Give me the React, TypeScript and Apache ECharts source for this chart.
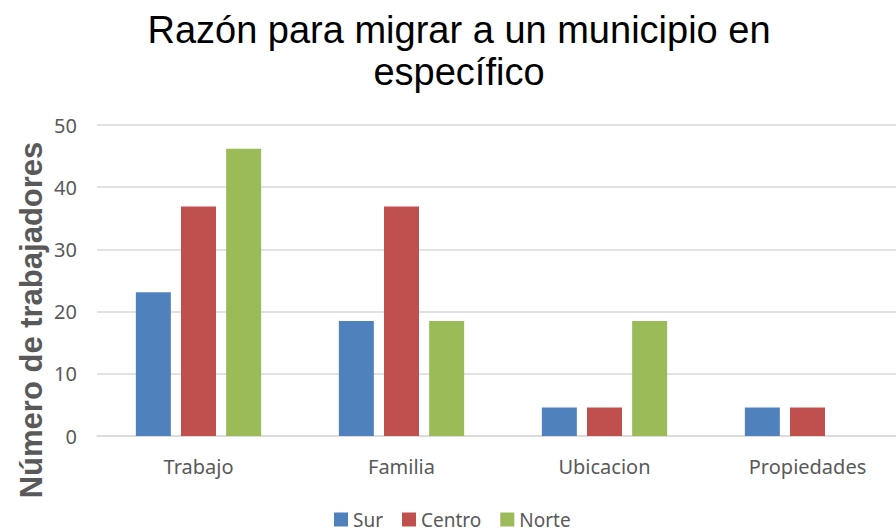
import React, { useEffect, useRef } from "react";
import * as echarts from "echarts";

const categories = ["Trabajo", "Familia", "Ubicacion", "Propiedades"];
const sur = [23.1, 18.5, 4.6, 4.6];
const centro = [36.9, 36.9, 4.6, 4.6];
const norte = [46.2, 18.5, 18.5, 0];
const yTicks = { min: 0, max: 50, interval: 10 };

export default function App() {
  const ref = useRef<HTMLDivElement>(null);
  useEffect(() => {
    const chart = echarts.init(ref.current!, null, { renderer: "svg" });
    const labelFont = "'Noto Sans', 'Open Sans', sans-serif";
    chart.setOption({
      animation: false,
      backgroundColor: "#ffffff",
      title: {
        text: "Razón para migrar a un municipio en\nespecífico",
        left: 454,
        top: 4,
        textAlign: "center",
        textStyle: {
          fontFamily: "'Liberation Sans', Arial, sans-serif",
          fontSize: 38,
          fontWeight: "normal",
          color: "#000000",
          lineHeight: 42,
        },
      },
      legend: {
        top: 510,
        left: 334,
        itemWidth: 14,
        itemHeight: 14,
        itemGap: 19,
        icon: "rect",
        padding: 0,
        textStyle: { fontFamily: labelFont, fontSize: 19, color: "#595959" },
        data: ["Sur", "Centro", "Norte"],
      },
      graphic: [
        {
          type: "text",
          x: 31,
          y: 320,
          rotation: Math.PI / 2,
          style: {
            text: "Número de trabajadores",
            fontFamily: "'Liberation Sans', Arial, sans-serif",
            fontSize: 31,
            fontWeight: "bold",
            fill: "#595959",
            align: "center",
            verticalAlign: "middle",
          },
        },
      ],
      grid: { left: 97, width: 812, top: 125, height: 311, outerBoundsMode: "none", containLabel: false },
      xAxis: {
        type: "category",
        data: categories,
        axisLine: { lineStyle: { color: "#d9d9d9", width: 1.5 } },
        axisTick: { show: false },
        axisLabel: { fontFamily: labelFont, fontSize: 20, color: "#595959", margin: 20 },
      },
      yAxis: {
        type: "value",
        min: yTicks.min,
        max: yTicks.max,
        interval: yTicks.interval,
        axisLine: { show: false },
        axisTick: { show: false },
        splitLine: { lineStyle: { color: "#d9d9d9", width: 1.5 } },
        axisLabel: { fontFamily: labelFont, fontSize: 20, color: "#595959", margin: 20 },
      },
      series: [
        { name: "Sur", type: "bar", data: sur, barWidth: 35, barGap: "29%", itemStyle: { color: "#4f81bd" } },
        { name: "Centro", type: "bar", data: centro, barWidth: 35, barGap: "29%", itemStyle: { color: "#c0504d" } },
        { name: "Norte", type: "bar", data: norte, barWidth: 35, barGap: "29%", itemStyle: { color: "#9bbb59" } },
      ],
    });
    return () => chart.dispose();
  }, []);
  return <div ref={ref} style={{ width: 896, height: 532, position: "fixed", left: 0, top: 0 }} />;
}
